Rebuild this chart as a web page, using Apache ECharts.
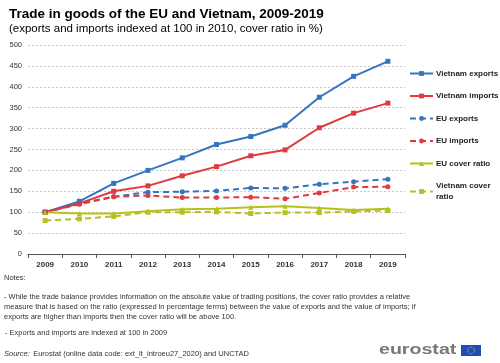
<!DOCTYPE html>
<html><head><meta charset="utf-8">
<script src="https://cdn.jsdelivr.net/npm/echarts@6/dist/echarts.min.js"></script>
<style>html,body{margin:0;padding:0;background:#fff}#c{width:500px;height:363px}</style>
</head><body><div id="c"></div>
<script>
const years = ['2009','2010','2011','2012','2013','2014','2015','2016','2017','2018','2019'];
const vietnamExports = [100,126,169,200,230,262,281,308,375,425,461];
const vietnamImports = [100,121,150,163,187,209,235,249,302,337,361];
const euExports = [100,121,137,148,149,151,158,157,167,173,179];
const euImports = [100,119,137,140,135,135,136,132,146,160,161];
const euCoverRatio = [100,97,97,102,107,108,112,114,110,105,108];
const vietnamCoverRatio = [80,84,90,100,100,101,97,99,99,102,104];
const yTicks = [0,50,100,150,200,250,300,350,400,450,500];

const BLUE = '#3574c0', RED = '#e0393e', GREEN = '#b5c21b';
const FONT = 'Liberation Sans, Arial, sans-serif';

function s(name, data, color, dashed, symbol) {
  return {
    name, type: 'line', data, symbol, symbolSize: 5,
    itemStyle: {color},
    lineStyle: {color, width: 2, type: dashed ? [6, 4] : 'solid'},
    emphasis: {disabled: true}
  };
}

const chart = echarts.init(document.getElementById('c'), null, {renderer: 'canvas'});
chart.setOption({
  animation: false,
  textStyle: {fontFamily: FONT},
  title: [
    {text: 'Trade in goods of the EU and Vietnam, 2009-2019', left: 4, top: 2,
     textStyle: {fontSize: 13.5, fontWeight: 'bold', color: '#000', fontFamily: FONT}},
    {text: '(exports and imports indexed at 100 in 2010, cover ratio in %)', left: 4, top: 18,
     textStyle: {fontSize: 11.5, fontWeight: 'normal', color: '#000', fontFamily: FONT}}
  ],
  grid: {left: 28, right: 95, top: 45, bottom: 109},
  xAxis: {
    type: 'category', data: years, boundaryGap: true,
    axisLine: {lineStyle: {color: '#555', width: 1}},
    axisTick: {show: true, alignWithLabel: false, length: 4, lineStyle: {color: '#555'}},
    axisLabel: {fontSize: 8, fontWeight: 'bold', color: '#333', margin: 7, fontFamily: FONT}
  },
  yAxis: {
    type: 'value', min: 0, max: 500, interval: 50,
    axisLine: {show: false}, axisTick: {show: false},
    axisLabel: {fontSize: 7.5, color: '#333', margin: 6, fontFamily: FONT,
      formatter: v => yTicks.includes(v) ? String(v) : ''},
    splitLine: {lineStyle: {color: '#c8c8c8', type: [2, 2], width: 1}}
  },
  legend: {
    orient: 'vertical', left: 409, top: 68, padding: 0, itemWidth: 23, itemHeight: 6, itemGap: 11.5,
    textStyle: {fontSize: 8, fontWeight: 'bold', color: '#222', fontFamily: FONT, lineHeight: 11, padding: [0, 0, 0, -2]},
    formatter: n => n === 'Vietnam cover ratio' ? 'Vietnam cover\nratio' : n,
    data: ['Vietnam exports','Vietnam imports','EU exports','EU imports','EU cover ratio','Vietnam cover ratio']
  },
  series: [
    s('Vietnam exports', vietnamExports, BLUE, false, 'rect'),
    s('Vietnam imports', vietnamImports, RED, false, 'rect'),
    s('EU exports', euExports, BLUE, true, 'circle'),
    s('EU imports', euImports, RED, true, 'circle'),
    s('EU cover ratio', euCoverRatio, GREEN, false, 'triangle'),
    s('Vietnam cover ratio', vietnamCoverRatio, GREEN, true, 'rect')
  ],
  graphic: [
    {type: 'text', left: 4, top: 274, style: {text: 'Notes:', font: '7.5px ' + FONT, fill: '#333'}},
    {type: 'text', left: 4, top: 292, style: {
      text: '- While the trade balance provides information on the absolute value of trading positions, the cover ratio provides a relative\nmeasure that is based on the ratio (expressed in percentage terms) between the value of exports and the value of imports; if\nexports are higher than imports then the cover ratio will be above 100.',
      font: '7.5px ' + FONT, fill: '#333', lineHeight: 10}},
    {type: 'text', left: 5, top: 329, style: {text: '- Exports and imports are indexed at 100 in 2009', font: '7.5px ' + FONT, fill: '#333'}},
    {type: 'text', left: 4, top: 348, style: {
      rich: {i: {fontStyle: 'italic', fontSize: 7.5, fontFamily: FONT, fill: '#333'}, n: {fontSize: 7.5, fontFamily: FONT, fill: '#333'}},
      text: '{i|Source:} {n|Eurostat (online data code: ext_lt_introeu27_2020) and UNCTAD}'}},
    {type: 'text', x: 379, y: 343, scaleX: 1.4, style: {text: 'eurostat', font: 'bold 14px ' + FONT, fill: '#777'}},
    {type: 'rect', shape: {x: 461, y: 345, width: 20, height: 11}, style: {fill: '#1f4fb4'}},
    {type: 'circle', shape: {cx: 471, cy: 350.5, r: 3.4}, style: {fill: 'none', stroke: '#f3d21d', lineWidth: 1, lineDash: [1, 1.2]}}
  ]
});
</script></body></html>
